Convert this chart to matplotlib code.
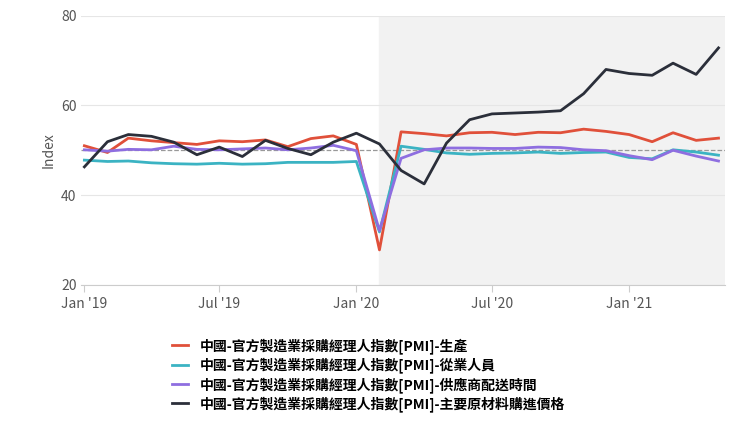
import numpy as np
import pandas as pd
import matplotlib
matplotlib.use("Agg")
import matplotlib.pyplot as plt
import matplotlib.dates as mdates

plt.rcParams['font.family'] = ['Noto Sans CJK TC', 'DejaVu Sans']

months = pd.date_range("2019-01-01", "2021-05-01", freq="MS")
production = [51.0, 49.5, 52.7, 52.1, 51.7, 51.3, 52.1, 51.9, 52.3, 50.8, 52.6, 53.2, 51.3, 27.8,
              54.1, 53.7, 53.2, 53.9, 54.0, 53.5, 54.0, 53.9, 54.7, 54.2, 53.5, 51.9, 53.9, 52.2, 52.7]
employment = [47.8, 47.5, 47.6, 47.2, 47.0, 46.9, 47.1, 46.9, 47.0, 47.3, 47.3, 47.3, 47.5, 31.8,
              50.9, 50.2, 49.4, 49.1, 49.3, 49.4, 49.6, 49.3, 49.5, 49.6, 48.4, 48.1, 50.1, 49.6, 48.9]
delivery = [50.1, 49.8, 50.2, 50.1, 50.9, 50.2, 50.1, 50.3, 50.5, 50.1, 50.5, 51.1, 49.9, 32.1,
            48.2, 50.1, 50.5, 50.5, 50.4, 50.4, 50.7, 50.6, 50.1, 49.9, 48.8, 47.9, 50.0, 48.7, 47.6]
prices = [46.3, 51.9, 53.5, 53.1, 51.8, 49.0, 50.7, 48.6, 52.2, 50.4, 49.0, 51.8, 53.8, 51.4,
          45.5, 42.5, 51.6, 56.8, 58.1, 58.3, 58.5, 58.8, 62.6, 68.0, 67.1, 66.7, 69.4, 66.9, 72.8]

labels = ["中國-官方製造業採購經理人指數[PMI]-生產",
          "中國-官方製造業採購經理人指數[PMI]-從業人員",
          "中國-官方製造業採購經理人指數[PMI]-供應商配送時間",
          "中國-官方製造業採購經理人指數[PMI]-主要原材料購進價格"]
colors = ["#e0503a", "#3bb3c3", "#8e6ee0", "#2b2f3a"]

fig = plt.figure(figsize=(7.4, 4.33), dpi=100)
ax = fig.add_axes([0.11, 0.342, 0.87, 0.622])

ax.axvspan(pd.Timestamp("2020-02-01"), pd.Timestamp("2021-05-10"), color="#f2f2f2", zorder=0)
ax.axhline(50, color="#999999", ls="--", lw=0.9, zorder=1)
for s, c, l in zip([production, employment, delivery, prices], colors, labels):
    ax.plot(months, s, color=c, lw=2, label=l, zorder=3)

ax.set_ylim(20, 80)
ax.set_yticks([20, 40, 60, 80])
ax.set_xlim(pd.Timestamp("2018-12-28"), pd.Timestamp("2021-05-10"))
ticks = pd.to_datetime(["2019-01-01", "2019-07-01", "2020-01-01", "2020-07-01", "2021-01-01"])
ax.set_xticks(ticks)
ax.set_xticklabels([d.strftime("%b '%y") for d in ticks])
ax.grid(axis="y", color="#e6e6e6", lw=0.8)
ax.set_axisbelow(True)
for sp in ["top", "right", "left"]:
    ax.spines[sp].set_visible(False)
ax.spines["bottom"].set_color("#cccccc")
ax.tick_params(axis="y", length=0, colors="#555555", labelsize=10)
ax.tick_params(axis="x", colors="#555555", labelsize=10, length=5, color="#cccccc")
ax.set_ylabel("Index", color="#555555", fontsize=10)

fig.legend(loc="lower left", bbox_to_anchor=(0.215, 0.02), frameon=False,
           prop={'size': 10, 'weight': 'bold'}, handlelength=1.2, labelspacing=0.25)
fig.savefig("out.png", dpi=100)
